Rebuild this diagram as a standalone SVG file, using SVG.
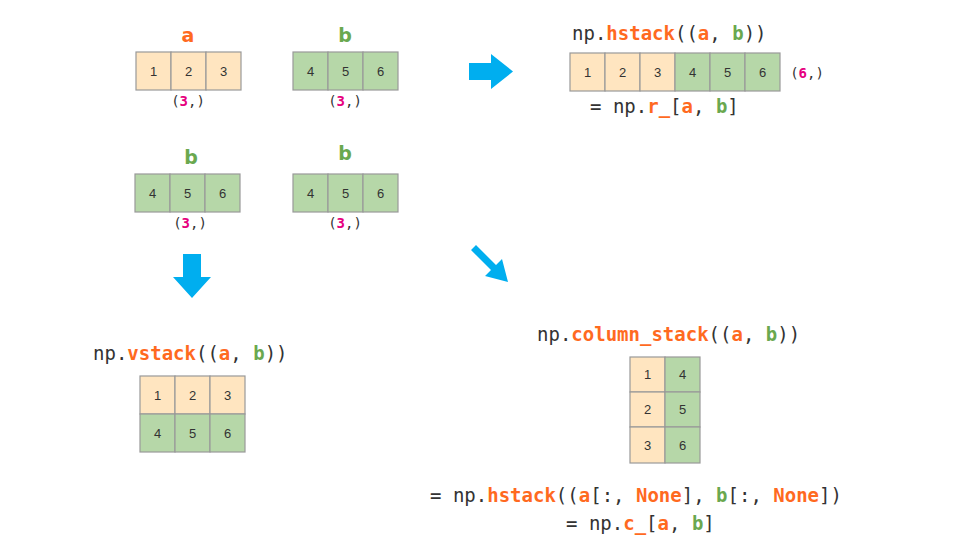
<svg xmlns="http://www.w3.org/2000/svg" width="972" height="554" viewBox="0 0 972 554">
<style>
.o{fill:#ffe5c0;stroke:#999;stroke-width:1.2}
.g{fill:#b6d7a8;stroke:#999;stroke-width:1.2}
.n{font-family:"Liberation Sans",Arial,sans-serif;font-size:13px;fill:#333;text-anchor:middle}
.c{font-family:"DejaVu Sans Mono",monospace;font-size:19px;fill:#333}
.s{font-family:"DejaVu Sans Mono",monospace;font-size:14px;fill:#333;text-anchor:middle}
.or{fill:#ff6a1f;font-weight:bold}
.gr{fill:#6aa84f;font-weight:bold}
.pk{fill:#e6007e;font-weight:bold}
.lbl{font-family:"DejaVu Sans",sans-serif;font-size:19px;font-weight:bold;text-anchor:middle}
.arr{fill:#00aeef}
</style>
<defs>
<g id="ro"><rect class="o" width="35" height="38"/></g>
<g id="rg"><rect class="g" width="35" height="38"/></g>
</defs>
<g id="a1">
<text class="lbl" x="188" y="42" fill="#ff6a1f">a</text>
<rect class="o" x="136" y="52" width="35" height="38"/><rect class="o" x="171" y="52" width="35" height="38"/><rect class="o" x="206" y="52" width="35" height="38"/>
<text class="n" x="153.5" y="76">1</text><text class="n" x="188.5" y="76">2</text><text class="n" x="223.5" y="76">3</text>
<text class="s" x="188" y="106">(<tspan class="pk">3</tspan>,)</text>
</g>
<g id="b1">
<text class="lbl" x="345" y="42" fill="#6aa84f">b</text>
<rect class="g" x="293" y="52" width="35" height="38"/><rect class="g" x="328" y="52" width="35" height="38"/><rect class="g" x="363" y="52" width="35" height="38"/>
<text class="n" x="310.5" y="76">4</text><text class="n" x="345.5" y="76">5</text><text class="n" x="380.5" y="76">6</text>
<text class="s" x="345" y="106">(<tspan class="pk">3</tspan>,)</text>
</g>
<g id="b2">
<text class="lbl" x="191" y="164" fill="#6aa84f">b</text>
<rect class="g" x="135" y="174" width="35" height="38"/><rect class="g" x="170" y="174" width="35" height="38"/><rect class="g" x="205" y="174" width="35" height="38"/>
<text class="n" x="152.5" y="198">4</text><text class="n" x="187.5" y="198">5</text><text class="n" x="222.5" y="198">6</text>
<text class="s" x="190" y="228">(<tspan class="pk">3</tspan>,)</text>
</g>
<g id="b3">
<text class="lbl" x="345" y="160" fill="#6aa84f">b</text>
<rect class="g" x="293" y="174" width="35" height="38"/><rect class="g" x="328" y="174" width="35" height="38"/><rect class="g" x="363" y="174" width="35" height="38"/>
<text class="n" x="310.5" y="198">4</text><text class="n" x="345.5" y="198">5</text><text class="n" x="380.5" y="198">6</text>
<text class="s" x="345" y="228">(<tspan class="pk">3</tspan>,)</text>
</g>
<g id="hstack">
<text class="c" x="572" y="40">np.<tspan class="or">hstack</tspan>((<tspan class="or">a</tspan>, <tspan class="gr">b</tspan>))</text>
<rect class="o" x="570" y="53" width="35" height="38"/><rect class="o" x="605" y="53" width="35" height="38"/><rect class="o" x="640" y="53" width="35" height="38"/>
<rect class="g" x="675" y="53" width="35" height="38"/><rect class="g" x="710" y="53" width="35" height="38"/><rect class="g" x="745" y="53" width="35" height="38"/>
<text class="n" x="587.5" y="77">1</text><text class="n" x="622.5" y="77">2</text><text class="n" x="657.5" y="77">3</text>
<text class="n" x="692.5" y="77">4</text><text class="n" x="727.5" y="77">5</text><text class="n" x="762.5" y="77">6</text>
<text class="s" x="807" y="78">(<tspan class="pk">6</tspan>,)</text>
<text class="c" x="590" y="113">= np.<tspan class="or">r_</tspan>[<tspan class="or">a</tspan>, <tspan class="gr">b</tspan>]</text>
</g>
<g id="vstack">
<text class="c" x="93" y="360">np.<tspan class="or">vstack</tspan>((<tspan class="or">a</tspan>, <tspan class="gr">b</tspan>))</text>
<rect class="o" x="140" y="376" width="35" height="38"/><rect class="o" x="175" y="376" width="35" height="38"/><rect class="o" x="210" y="376" width="35" height="38"/>
<rect class="g" x="140" y="414" width="35" height="38"/><rect class="g" x="175" y="414" width="35" height="38"/><rect class="g" x="210" y="414" width="35" height="38"/>
<text class="n" x="157.5" y="400">1</text><text class="n" x="192.5" y="400">2</text><text class="n" x="227.5" y="400">3</text>
<text class="n" x="157.5" y="438">4</text><text class="n" x="192.5" y="438">5</text><text class="n" x="227.5" y="438">6</text>
</g>
<g id="column_stack">
<text class="c" x="537" y="341">np.<tspan class="or">column_stack</tspan>((<tspan class="or">a</tspan>, <tspan class="gr">b</tspan>))</text>
<rect class="o" x="630" y="357" width="35" height="35"/><rect class="o" x="630" y="392" width="35" height="35"/><rect class="o" x="630" y="427" width="35" height="36"/>
<rect class="g" x="665" y="357" width="35" height="35"/><rect class="g" x="665" y="392" width="35" height="35"/><rect class="g" x="665" y="427" width="35" height="36"/>
<text class="n" x="647.5" y="379">1</text><text class="n" x="647.5" y="414">2</text><text class="n" x="647.5" y="450">3</text>
<text class="n" x="682.5" y="379">4</text><text class="n" x="682.5" y="414">5</text><text class="n" x="682.5" y="450">6</text>
<text class="c" x="430" y="502">= np.<tspan class="or">hstack</tspan>((<tspan class="or">a</tspan>[:, <tspan class="or">None</tspan>], <tspan class="gr">b</tspan>[:, <tspan class="or">None</tspan>])</text>
<text class="c" x="566" y="530">= np.<tspan class="or">c_</tspan>[<tspan class="or">a</tspan>, <tspan class="gr">b</tspan>]</text>
</g>
<g id="connectors">
<polygon class="arr" points="469,63 491,63 491,54 513,71.5 491,89 491,80 469,80"/>
<polygon class="arr" points="183,254 201,254 201,277 211,277 192,298 173,277 183,277"/>
<polygon class="arr" points="476,245 496,265 502,259 508,282 485,276 491,270 471,250"/>
</g>
</svg>
